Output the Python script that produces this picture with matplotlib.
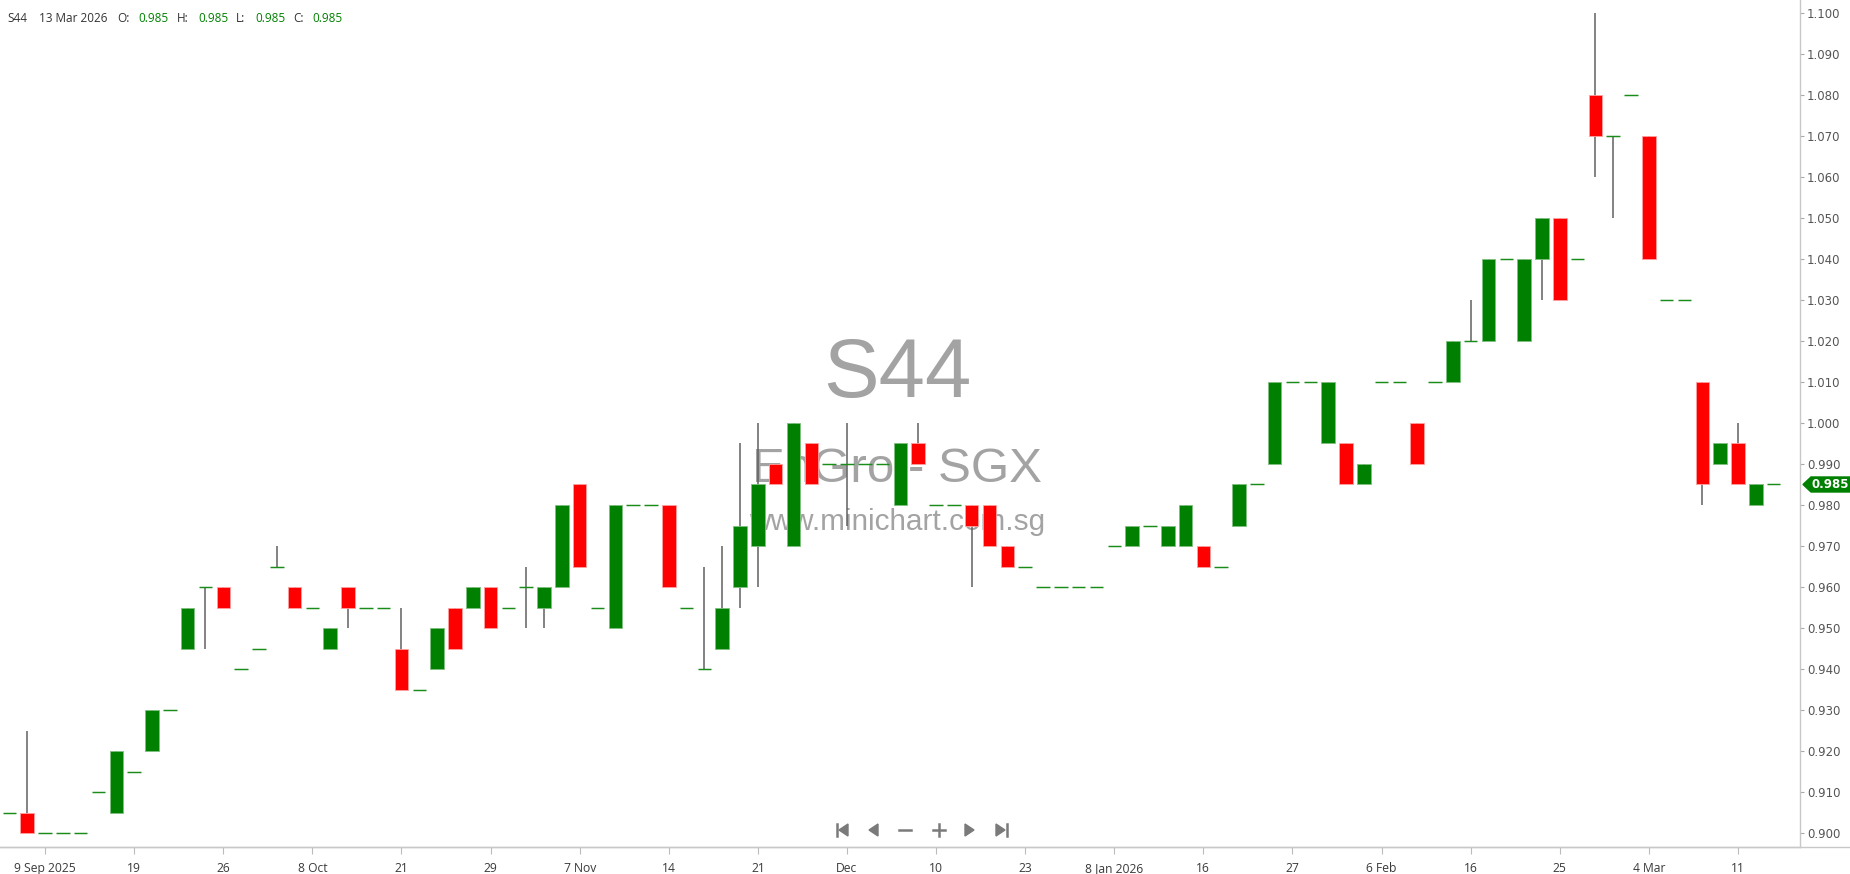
import matplotlib
matplotlib.use('Agg')
import matplotlib.pyplot as plt
from matplotlib.patches import Polygon
import numpy as np

# ---------------- data ----------------
symbol = "S44"
company = "EnGro - SGX"
site = "www.minichart.com.sg"
last_date = "13 Mar 2026"

opens = [0.905, 0.905, 0.900, 0.900, 0.900, 0.910, 0.905, 0.915, 0.920, 0.930,
         0.945, 0.960, 0.960, 0.940, 0.945, 0.965, 0.960, 0.955, 0.945, 0.960,
         0.955, 0.955, 0.945, 0.935, 0.940, 0.955, 0.955, 0.960, 0.955, 0.960,
         0.955, 0.960, 0.985, 0.955, 0.950, 0.980, 0.980, 0.980, 0.955, 0.940,
         0.945, 0.960, 0.970, 0.990, 0.970, 0.995, 0.990, 0.990, 0.990, 0.990,
         0.980, 0.995, 0.980, 0.980, 0.980, 0.980, 0.970, 0.965, 0.960, 0.960,
         0.960, 0.960, 0.970, 0.970, 0.975, 0.970, 0.970, 0.970, 0.965, 0.975,
         0.985, 0.990, 1.010, 1.010, 0.995, 0.995, 0.985, 1.010, 1.010, 1.000,
         1.010, 1.010, 1.020, 1.020, 1.040, 1.020, 1.040, 1.050, 1.040, 1.080,
         1.070, 1.080, 1.070, 1.030, 1.030, 1.010, 0.990, 0.995, 0.980, 0.985]
highs = [0.905, 0.925, 0.900, 0.900, 0.900, 0.910, 0.920, 0.915, 0.930, 0.930,
         0.955, 0.960, 0.960, 0.940, 0.945, 0.970, 0.960, 0.955, 0.950, 0.960,
         0.955, 0.955, 0.955, 0.935, 0.950, 0.955, 0.960, 0.960, 0.955, 0.965,
         0.960, 0.980, 0.985, 0.955, 0.980, 0.980, 0.980, 0.980, 0.955, 0.965,
         0.970, 0.995, 1.000, 0.990, 1.000, 0.995, 0.990, 1.000, 0.990, 0.990,
         0.995, 1.000, 0.980, 0.980, 0.980, 0.980, 0.970, 0.965, 0.960, 0.960,
         0.960, 0.960, 0.970, 0.975, 0.975, 0.975, 0.980, 0.970, 0.965, 0.985,
         0.985, 1.010, 1.010, 1.010, 1.010, 0.995, 0.990, 1.010, 1.010, 1.000,
         1.010, 1.020, 1.030, 1.040, 1.040, 1.040, 1.050, 1.050, 1.040, 1.100,
         1.070, 1.080, 1.070, 1.030, 1.030, 1.010, 0.995, 1.000, 0.985, 0.985]
lows = [0.905, 0.900, 0.900, 0.900, 0.900, 0.910, 0.905, 0.915, 0.920, 0.930,
        0.945, 0.945, 0.955, 0.940, 0.945, 0.965, 0.955, 0.955, 0.945, 0.950,
        0.955, 0.955, 0.935, 0.935, 0.940, 0.945, 0.955, 0.950, 0.955, 0.950,
        0.950, 0.960, 0.965, 0.955, 0.950, 0.980, 0.980, 0.960, 0.955, 0.940,
        0.945, 0.955, 0.960, 0.985, 0.970, 0.985, 0.990, 0.975, 0.990, 0.990,
        0.980, 0.990, 0.980, 0.980, 0.960, 0.970, 0.965, 0.965, 0.960, 0.960,
        0.960, 0.960, 0.970, 0.970, 0.975, 0.970, 0.970, 0.965, 0.965, 0.975,
        0.985, 0.990, 1.010, 1.010, 0.995, 0.985, 0.985, 1.010, 1.010, 0.990,
        1.010, 1.010, 1.020, 1.020, 1.040, 1.020, 1.030, 1.030, 1.040, 1.060,
        1.050, 1.080, 1.040, 1.030, 1.030, 0.980, 0.990, 0.985, 0.980, 0.985]
closes = [0.905, 0.900, 0.900, 0.900, 0.900, 0.910, 0.920, 0.915, 0.930, 0.930,
          0.955, 0.960, 0.955, 0.940, 0.945, 0.965, 0.955, 0.955, 0.950, 0.955,
          0.955, 0.955, 0.935, 0.935, 0.950, 0.945, 0.960, 0.950, 0.955, 0.960,
          0.960, 0.980, 0.965, 0.955, 0.980, 0.980, 0.980, 0.960, 0.955, 0.940,
          0.955, 0.975, 0.985, 0.985, 1.000, 0.985, 0.990, 0.990, 0.990, 0.990,
          0.995, 0.990, 0.980, 0.980, 0.975, 0.970, 0.965, 0.965, 0.960, 0.960,
          0.960, 0.960, 0.970, 0.975, 0.975, 0.975, 0.980, 0.965, 0.965, 0.985,
          0.985, 1.010, 1.010, 1.010, 1.010, 0.985, 0.990, 1.010, 1.010, 0.990,
          1.010, 1.020, 1.020, 1.040, 1.040, 1.040, 1.050, 1.030, 1.040, 1.070,
          1.070, 1.080, 1.040, 1.030, 1.030, 0.985, 0.995, 0.985, 0.985, 0.985]

tick_labels = ['9 Sep 2025', '19', '26', '8 Oct', '21', '29', '7 Nov', '14', '21', 'Dec',
               '10', '23', '8 Jan 2026', '16', '27', '6 Feb', '16', '25', '4 Mar', '11']
first_tick_bar = 2
tick_step = 5
price_ticks = [0.900, 0.910, 0.920, 0.930, 0.940, 0.950, 0.960, 0.970, 0.980, 0.990, 1.000,
               1.010, 1.020, 1.030, 1.040, 1.050, 1.060, 1.070, 1.080, 1.090, 1.100]

# ---------------- figure ----------------
W, H = 1850, 874
fig = plt.figure(figsize=(W / 100, H / 100), dpi=100)
fig.patch.set_facecolor('white')

axis_bottom_px = 847
plot_right_px = 1800
ax = fig.add_axes([0, (H - axis_bottom_px) / H, plot_right_px / W, axis_bottom_px / H])

GREEN = '#008000'
RED = '#ff0000'
WICK = '#606060'
AXC = '#c8c8c8'

o = np.array(opens); h = np.array(highs); l = np.array(lows); c = np.array(closes)
x = np.arange(len(o))
up = c > o
dn = c < o
dj = c == o
bw = 0.76

ax.vlines(x, l, h, color=WICK, lw=1.1, zorder=2)
ax.bar(x[up], (c - o)[up], bottom=o[up], width=bw, color=GREEN,
       edgecolor='#80c080', linewidth=0.6, zorder=3)
ax.bar(x[dn], (o - c)[dn], bottom=c[dn], width=bw, color=RED,
       edgecolor='#ffa0a0', linewidth=0.6, zorder=3)
ax.hlines(o[dj], x[dj] - bw / 2, x[dj] + bw / 2, color='#1a8c1a', lw=1.05, zorder=3)

ax.set_xlim(-0.53, 100.48)
ax.set_ylim(0.89667, 1.10305)

# axes styling
for s in ['top', 'left']:
    ax.spines[s].set_visible(False)
ax.spines['right'].set_color(AXC)
ax.spines['bottom'].set_color(AXC)
ax.spines['right'].set_linewidth(1.0)
ax.spines['bottom'].set_linewidth(1.0)

ax.yaxis.tick_right()
ax.set_yticks(price_ticks)
ax.set_yticklabels([f'{p:.3f}' for p in price_ticks])
ax.tick_params(axis='y', which='both', length=3, width=0.8, color='#aaaaaa', pad=2,
               labelsize=8.5, labelcolor='#555555')
for t in ax.get_yticklabels():
    t.set_fontfamily('DejaVu Sans')

tick_pos = list(range(first_tick_bar, len(o), tick_step))[:len(tick_labels)]
ax.set_xticks(tick_pos)
ax.set_xticklabels(tick_labels)
ax.tick_params(axis='x', length=5, width=0.8, color='#bbbbbb', pad=6,
               labelsize=8.7, labelcolor='#3a3a3a')
for t in ax.get_xticklabels():
    t.set_fontfamily('Open Sans')

# watermark
wm_col = '#a3a3a3'
cx = 897 / W
fig.text(cx, 1 - 397 / H, symbol, ha='center', va='baseline', fontsize=60,
         family='Liberation Sans', color=wm_col, zorder=0)
fig.text(cx, 1 - 482 / H, company, ha='center', va='baseline', fontsize=35.5,
         family='Liberation Sans', color=wm_col, zorder=0)
fig.text(cx, 1 - 530 / H, site, ha='center', va='baseline', fontsize=21.4,
         family='Liberation Sans', color=wm_col, zorder=0)
ax.set_zorder(2)
ax.patch.set_alpha(0)

# overlay in pixel coordinates for header, navigation, price tag
ov = fig.add_axes([0, 0, 1, 1], zorder=5)
ov.set_xlim(0, W)
ov.set_ylim(H, 0)
ov.axis('off')
ov.patch.set_alpha(0)

# header
hy = 18
hdr_font = dict(family='Open Sans', fontsize=8.5, va='center', ha='left')
ov.text(7, hy, symbol, color='#333333', **hdr_font)
ov.text(39, hy, last_date, color='#333333', **hdr_font)
vals = [('O:', opens[-1], 117, 138), ('H:', highs[-1], 177, 198),
        ('L:', lows[-1], 236, 255), ('C:', closes[-1], 293, 312)]
for lab, v, xl, xv in vals:
    ov.text(xl, hy, lab, color='#333333', **hdr_font)
    ov.text(xv, hy, f'{v:.3f}', color=GREEN, **hdr_font)

# bottom line across full width
ov.plot([0, W], [axis_bottom_px, axis_bottom_px], color=AXC, lw=1.0)

# navigation icons
ic = '#7a7a7a'
ny = 830
ov.plot([837, 837], [ny - 6, ny + 6], color=ic, lw=1.8)
ov.add_patch(Polygon([(839, ny), (848, ny - 6), (848, ny + 6)], closed=True, color=ic))
ov.add_patch(Polygon([(869, ny), (878, ny - 6), (878, ny + 6)], closed=True, color=ic))
ov.plot([899, 911], [ny, ny], color=ic, lw=1.8)
ov.plot([933, 945], [ny, ny], color=ic, lw=1.8)
ov.plot([939, 939], [ny - 6, ny + 6], color=ic, lw=1.8)
ov.add_patch(Polygon([(965, ny - 6), (965, ny + 6), (974, ny)], closed=True, color=ic))
ov.add_patch(Polygon([(996, ny - 6), (996, ny + 6), (1005, ny)], closed=True, color=ic))
ov.plot([1007, 1007], [ny - 6, ny + 6], color=ic, lw=1.8)

# last price tag
fig.canvas.draw()
py_disp = ax.transData.transform((0, closes[-1]))[1]
py = H - py_disp
tag = [(1803, py), (1811, py - 7.5), (W, py - 7.5), (W, py + 7.5), (1811, py + 7.5)]
ov.add_patch(Polygon(tag, closed=True, color=GREEN))
ov.text(1812, py, f'{closes[-1]:.3f}', color='white', fontsize=8.5, fontweight='bold',
        family='DejaVu Sans', va='center', ha='left')

fig.savefig('out.png', dpi=100, facecolor='white')
